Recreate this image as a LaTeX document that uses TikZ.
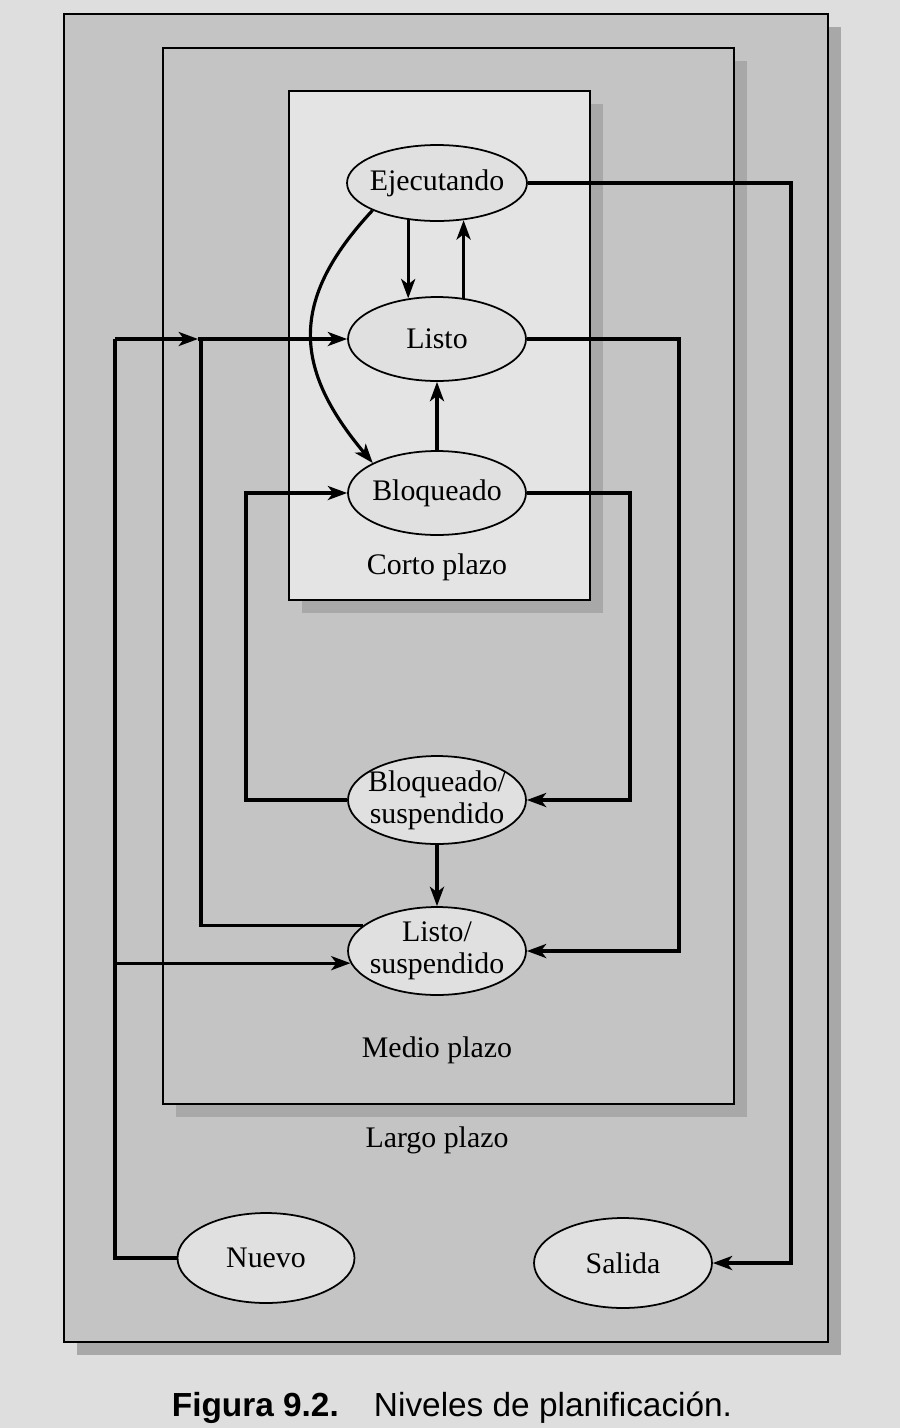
\documentclass[tikz,border=0pt]{standalone}
\usepackage{fontspec}
\setmainfont{Liberation Serif}
\setsansfont{Liberation Sans}
\usepackage{tikz}
\usetikzlibrary{shapes.geometric,arrows.meta}

\definecolor{pagebg}{RGB}{222,222,222}
\definecolor{boxgray}{RGB}{196,196,196}
\definecolor{shadowgray}{RGB}{168,168,168}
\definecolor{shortgray}{RGB}{228,228,228}
\definecolor{ellgray}{RGB}{224,224,224}
\newcommand{\statefont}{\fontsize{17}{18}\selectfont}

\tikzset{
	state/.style={ellipse, draw, fill=ellgray, line width=1pt, minimum width=3.56cm, minimum height=1.68cm, inner xsep=-4pt, inner ysep=0pt, align=center, font=\statefont},
	conn/.style={line width=1.8pt, -{Stealth[length=11pt,width=8pt,inset=3pt]}},
	wire/.style={line width=1.8pt},
}

\begin{document}
\begin{tikzpicture}[x=.02cm, y=-.02cm]
	\useasboundingbox (0,0) rectangle (900,1428);
	\fill[pagebg] (0,0) rectangle (900,1428);
	% cajas: largo, medio y corto plazo
	\foreach \xa/\ya/\xb/\yb/\c in {64/14/828/1342/boxgray, 163/48/734/1104/boxgray, 289/91/590/600/shortgray}
	{
		\fill[shadowgray] (\xa+13,\ya+13) rectangle (\xb+13,\yb+13);
		\filldraw[fill=\c, line width=1.1pt] (\xa,\ya) rectangle (\xb,\yb);
	}
	% estados
	\node[state, minimum width=3.6cm, minimum height=1.52cm] (Ejec) at (437,183) {Ejecutando};
	\node[state] (Listo) at (437,339) {Listo};
	\node[state] (Bloq) at (437,493) {Bloqueado};
	\node[state, minimum height=1.76cm] (BloqS) at (437,800) {Bloqueado/\\suspendido};
	\node[state, minimum height=1.76cm] (ListoS) at (437,951) {Listo/\\suspendido};
	\node[state, minimum width=3.54cm, minimum height=1.8cm] (Nuevo) at (266,1258) {Nuevo};
	\node[state, minimum height=1.8cm] (Salida) at (623,1263) {Salida};
	\node[font=\statefont] (corto) at (437,567) {Corto plazo};
	\node[font=\statefont] (medio) at (437,1050) {Medio plazo};
	\node[font=\statefont] (largo) at (437,1140) {Largo plazo};
	\node[font=\sffamily\fontsize{19}{22}\selectfont] (caption) at (452,1408) {\textbf{Figura 9.2.}\hspace{20pt}Niveles de planificación.};
	% puntos de giro
	\coordinate (rgtS) at (791,183);
	\coordinate (rgtL) at (679,339);
	\coordinate (rgtB) at (630,493);
	\coordinate (lftC) at (246,800);
	\coordinate (lftA) at (115,339);
	\coordinate (tipA) at (198,339);
	\coordinate (ljoin) at (201,339);
	% transiciones
	\draw[conn] (Ejec.232) -- (Ejec.232 |- Listo.125);
	\draw[conn] (Listo.57) -- (Listo.57 |- Ejec.305);
	\draw[conn] (Bloq.north) -- (Listo.south);
	\draw[conn] (Ejec.203) to[out=227, in=130, looseness=1.25] (Bloq.155);
	\draw[conn] (Ejec.east) -- (rgtS) |- (Salida.east);
	\draw[conn] (Listo.east) -- (rgtL) |- (ListoS.east);
	\draw[conn] (Bloq.east) -- (rgtB) |- (BloqS.east);
	\draw[conn] (BloqS.west) -- (lftC) |- (Bloq.west);
	\draw[conn] (BloqS.south) -- (ListoS.north);
	\draw[wire] (ListoS.161) -| (ljoin);
	\draw[wire] (Nuevo.west) -| (lftA);
	\draw[conn] (lftA) -- (tipA);
	\draw[conn] (tipA) -- (Listo.west);
	\draw[conn] (ListoS.188 -| lftA) -- (ListoS.188);
\end{tikzpicture}
\end{document}
